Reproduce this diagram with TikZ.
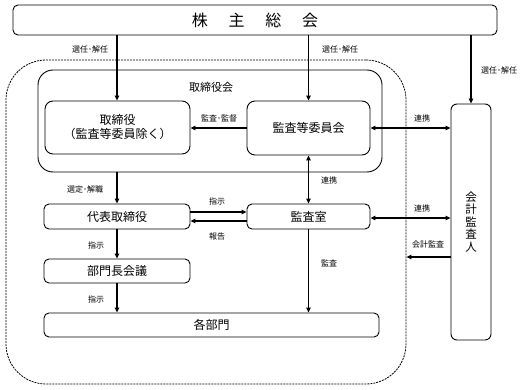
\documentclass[tikz,border=0pt]{standalone}
\usepackage{fontspec}
\setmainfont{Noto Sans CJK JP}
\usetikzlibrary{arrows.meta}
\begin{document}
\begin{tikzpicture}[x=1pt,y=-1pt,
  box/.style={draw, line width=0.9pt, rounded corners=5pt, inner sep=0pt, font=\fontsize{12}{14}\selectfont, align=center},
  arr/.style={-{Triangle[length=5pt,width=4.5pt]}, line width=1.5pt},
  darr/.style={{Triangle[length=5pt,width=4.5pt]}-{Triangle[length=5pt,width=4.5pt]}, line width=1.5pt},
  lbl/.style={font=\fontsize{8}{9}\selectfont, inner sep=0pt}]
\useasboundingbox (0,0) rectangle (525,390);
% containers
\node[draw, line width=0.8pt, dash pattern=on 2pt off 1pt, rounded corners=40pt, minimum width=400pt, minimum height=324pt, inner sep=0pt] (outer) at (206,222) {};
\node[draw, line width=0.9pt, rounded corners=15pt, minimum width=344pt, minimum height=102pt, inner sep=0pt] (trk) at (210,121) {};
\node[font=\fontsize{11}{12}\selectfont] (trklbl) at (211,87) {取締役会};
% boxes
\node[box, minimum width=484pt, minimum height=30pt, font=\fontsize{16}{18}\selectfont] (kabu) at (255,20) {株\hspace{1.3em}主\hspace{1.3em}総\hspace{1.3em}会};
\node[box, rounded corners=8pt, minimum width=145pt, minimum height=53pt] (tori) at (117.5,127.5) {取締役\\（監査等委員除く）};
\node[box, rounded corners=8pt, minimum width=123pt, minimum height=54pt] (kansa) at (308.5,128) {監査等委員会};
\node[box, rounded corners=6pt, minimum width=40pt, minimum height=236pt, font=\fontsize{11.5}{12.5}\selectfont] (kaikei) at (471,222) {会\\計\\監\\査\\人};
\node[box, minimum width=146pt, minimum height=25pt] (daihyo) at (117,216.5) {代表取締役};
\node[box, minimum width=123pt, minimum height=25pt] (shitsu) at (308.5,216.5) {監査室};
\node[box, minimum width=146pt, minimum height=24pt] (bucho) at (117,271) {部門長会議};
\node[box, minimum width=335pt, minimum height=24pt] (kaku) at (211.5,325) {各部門};
% connectors
\draw[arr] (kabu.south -| daihyo) -- (tori.north -| daihyo);
\draw[arr] (kabu.south -| kansa) -- (kansa.north);
\draw[arr] (kabu.south -| kaikei) -- (kaikei.north);
\draw[arr] (kansa.west) -- (kansa.west -| tori.east);
\draw[darr] (kansa.east) -- (kansa.east -| kaikei.west);
\draw[arr] (trk.south -| daihyo) -- (daihyo.north);
\draw[darr] (kansa.south) -- (shitsu.north);
\draw[arr] ([yshift=4.5pt]daihyo.east) -- ([yshift=4.5pt]shitsu.west);
\draw[arr] ([yshift=-4.5pt]shitsu.west) -- ([yshift=-4.5pt]daihyo.east);
\draw[darr] ([yshift=-1.5pt]shitsu.east) -- ([yshift=-1.5pt]shitsu.east -| kaikei.west);
\coordinate (kk) at ([yshift=-35pt]kaikei.west);
\draw[arr] (kk) -- (kk -| outer.east);
\draw[arr] (daihyo.south) -- (bucho.north);
\draw[arr] (bucho.south) -- (bucho.south |- kaku.north);
\draw[arr] (shitsu.south) -- (shitsu.south |- kaku.north);
% labels
\node[lbl] at (90,49) {選任･解任};
\node[lbl] at (340,49) {選任･解任};
\node[lbl] at (499,70) {選任･解任};
\node[lbl] at (219,118) {監査･監督};
\node[lbl] at (422,118) {連携};
\node[lbl] at (85,189) {選定･解職};
\node[lbl] at (329,180) {連携};
\node[lbl] at (217,201) {指示};
\node[lbl] at (217,236) {報告};
\node[lbl] at (422,208) {連携};
\node[lbl] at (428,244) {会計監査};
\node[lbl] at (96,245) {指示};
\node[lbl] at (329,263) {監査};
\node[lbl] at (96,299) {指示};
\end{tikzpicture}
\end{document}
